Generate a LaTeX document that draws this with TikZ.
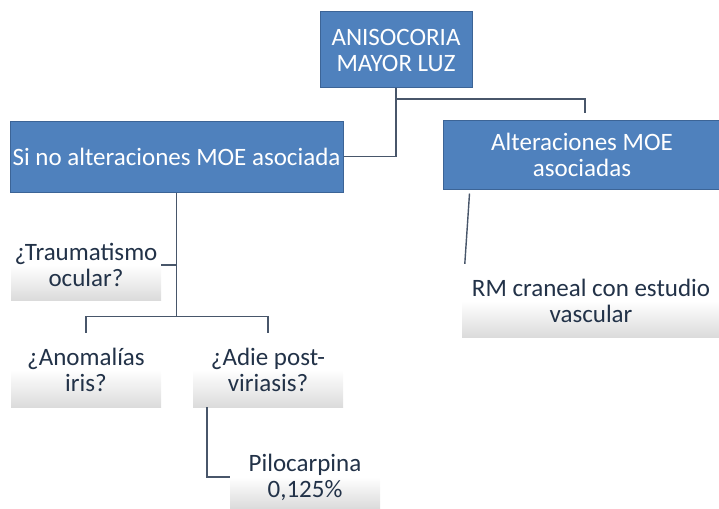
\documentclass[tikz,border=0pt]{standalone}
\usepackage{fontspec}
\setmainfont{Carlito}
\usetikzlibrary{positioning}
\definecolor{kasten}{RGB}{79,129,189}
\definecolor{rand}{RGB}{60,100,150}
\definecolor{linie}{RGB}{72,86,106}
\definecolor{schrift}{RGB}{34,50,72}
\tikzset{
  blau/.style={draw=rand, line width=1pt, fill=kasten, text=white, align=center, inner sep=0pt},
  grau/.style={top color=white, bottom color=black!14, middle color=white, text=schrift, align=center, inner sep=0pt},
  ast/.style={draw=linie, line width=1.4pt}
}

\begin{document}
\begin{tikzpicture}[x=1pt, y=-1pt, font=\fontsize{25}{26}\selectfont] % y nach unten, wie Pixel
    \useasboundingbox (0,0) rectangle (719,508);
    % Kaesten oben
    \node[blau, minimum width=152pt, minimum height=76pt] (ani) at (396,50) {ANISOCORIA\\MAYOR LUZ};
    \node[blau, minimum width=333pt, minimum height=71pt] (ohne) at (176.5,156.5) {Si no alteraciones MOE asociada};
    \node[blau, minimum width=278pt, minimum height=69pt] (mit) at (582,154.5) {Alteraciones MOE\\asociadas};
    % Fragen links
    \node[grau, minimum width=150pt, minimum height=70pt] (trauma) at (86,265) {¿Traumatismo\\ocular?};
    \node[grau, minimum width=150pt, minimum height=74pt] (iris) at (86,370) {¿Anomalías\\iris?};
    \node[grau, minimum width=150pt, minimum height=74pt] (adie) at (268,370) {¿Adie post-\\viriasis?};
    \node[grau, minimum width=150pt, minimum height=62pt] (pilo) at (305,477) {Pilocarpina\\0,125\%};
    % rechts
    \node[grau, minimum width=258pt, minimum height=73pt] (rm) at (591,300.5) {RM craneal con estudio\\vascular};
    % Verbindungen oben
    \coordinate (k1) at (396,99);
    \coordinate (k2) at (585,113);
    \draw[ast] (ani.south) |- (ohne.east);
    \draw[ast] (k1) -| (k2);
    % Verbindungen links
    \draw[ast] (ohne.south) -- ++(0,124) coordinate (gabel);
    \draw[ast] (trauma.east) -- (trauma.east -| gabel);
    \draw[ast] (iris.north) |- (gabel);
    \draw[ast] (adie.north) |- (gabel);
    \draw[ast] ([xshift=14pt]adie.south west) |- (pilo.west);
    % Verbindung rechts
    \coordinate (r1) at ([xshift=27pt, yshift=-4pt]mit.south west);
    \draw[ast] (r1) -- ([xshift=3pt]rm.north west);
\end{tikzpicture}
\end{document}
